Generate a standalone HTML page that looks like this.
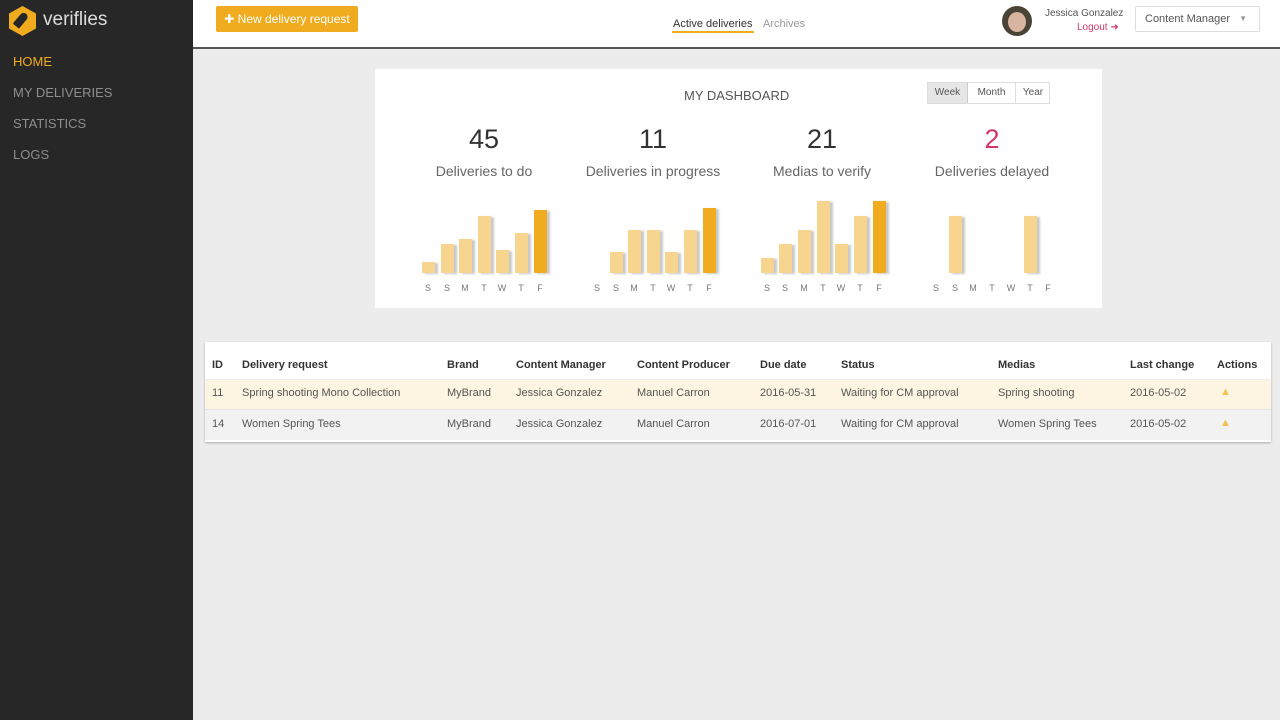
<!DOCTYPE html>
<html><head><meta charset="utf-8"><style>
*{margin:0;padding:0;box-sizing:border-box}
body{width:1280px;height:720px;overflow:hidden;background:#ececec;font-family:"Liberation Sans",sans-serif;position:relative}
.a{position:absolute;white-space:nowrap}
.side{left:0;top:0;width:193px;height:720px;background:#272727}
.nav{left:13px;font-size:13px;color:#8e8e8e}
.top{left:193px;top:0;width:1087px;height:49px;background:#fff;border-bottom:2px solid #555}
.card{left:375px;top:69px;width:727px;height:239px;background:#fff}
.num{font-size:27px;color:#333;text-align:center;width:170px}
.lbl{font-size:14px;color:#666;text-align:center;width:170px}
.b{position:absolute;width:13px;background:#f8d58e;box-shadow:3px 1px 2px #c8c8c8}
.d{background:#f0ac1e}
.dl{font-size:9px;color:#777;width:12px;text-align:center;top:283px}
.tbl{left:205px;top:342px;width:1066px;height:100px;background:#fff;box-shadow:0 1px 2px #aaa}
.th{font-size:11px;font-weight:bold;color:#333;top:359px}
.td{font-size:11px;color:#555}
.wk{position:absolute;top:0;height:20px;line-height:20px;text-align:center}
</style></head><body>
<div class="a side"></div>
<div class="a" style="left:9px;top:6px;width:27px;height:30px;background:#f0ac1e;clip-path:polygon(50% 0,100% 25%,100% 75%,50% 100%,0 75%,0 25%)"></div>
<div class="a" style="left:17px;top:12px;width:8px;height:16px;background:#272727;transform:rotate(40deg);border-radius:4px 4px 1px 1px"></div>
<div class="a" style="left:43px;top:9px;font-size:19px;color:#ddd">veriflies</div>
<div class="a nav" style="top:54px;color:#f0ac1e">HOME</div>
<div class="a nav" style="top:85px">MY DELIVERIES</div>
<div class="a nav" style="top:116px">STATISTICS</div>
<div class="a nav" style="top:147px">LOGS</div>
<div class="a top"></div>
<div class="a" style="left:216px;top:6px;width:142px;height:26px;background:#f0ac1e;border-radius:2px;color:#fff;font-size:12px;line-height:26px;text-align:center">✚ New delivery request</div>
<div class="a" style="left:673px;top:18px;font-size:11px;color:#333">Active deliveries</div>
<div class="a" style="left:672px;top:31px;width:82px;height:2px;background:#f0ac1e"></div>
<div class="a" style="left:763px;top:18px;font-size:11px;color:#999">Archives</div>
<div class="a" style="left:1002px;top:6px;width:30px;height:30px;border-radius:50%;background:#4a4436"></div>
<div class="a" style="left:1008px;top:12px;width:18px;height:20px;border-radius:50%;background:#d9b4a0"></div>
<div class="a" style="left:1045px;top:8px;font-size:10px;color:#555">Jessica Gonzalez</div>
<div class="a" style="left:1077px;top:22px;font-size:10px;color:#d3366e">Logout ➜</div>
<div class="a" style="left:1135px;top:6px;width:125px;height:26px;border:1px solid #ddd;border-radius:2px;font-size:11px;color:#555;line-height:24px;padding-left:9px">Content Manager<span style="position:absolute;right:12px;font-size:8px;color:#999">▼</span></div>
<div class="a card"></div>
<div class="a" style="left:684px;top:88px;font-size:13px;color:#555">MY DASHBOARD</div>
<div class="a" style="left:927px;top:82px;width:123px;height:22px;border:1px solid #ddd;font-size:10px;color:#555">
<span class="wk" style="left:0;width:40px;background:#e6e6e6;border-right:1px solid #ccc">Week</span>
<span class="wk" style="left:40px;width:48px;border-right:1px solid #ddd">Month</span>
<span class="wk" style="left:88px;width:34px">Year</span></div>
<div class="a num" style="left:399px;top:124px">45</div>
<div class="a num" style="left:568px;top:124px">11</div>
<div class="a num" style="left:737px;top:124px">21</div>
<div class="a num" style="left:907px;top:124px;color:#d3366e">2</div>
<div class="a lbl" style="left:399px;top:163px">Deliveries to do</div>
<div class="a lbl" style="left:568px;top:163px">Deliveries in progress</div>
<div class="a lbl" style="left:737px;top:163px">Medias to verify</div>
<div class="a lbl" style="left:907px;top:163px">Deliveries delayed</div>

<div class="b" style="left:422px;top:262px;height:11px"></div>
<div class="b" style="left:441px;top:244px;height:29px"></div>
<div class="b" style="left:459px;top:239px;height:34px"></div>
<div class="b" style="left:478px;top:216px;height:57px"></div>
<div class="b" style="left:496px;top:250px;height:23px"></div>
<div class="b" style="left:515px;top:233px;height:40px"></div>
<div class="b d" style="left:534px;top:210px;height:63px"></div>

<div class="b" style="left:610px;top:252px;height:21px"></div>
<div class="b" style="left:628px;top:230px;height:43px"></div>
<div class="b" style="left:647px;top:230px;height:43px"></div>
<div class="b" style="left:665px;top:252px;height:21px"></div>
<div class="b" style="left:684px;top:230px;height:43px"></div>
<div class="b d" style="left:703px;top:208px;height:65px"></div>

<div class="b" style="left:761px;top:258px;height:15px"></div>
<div class="b" style="left:779px;top:244px;height:29px"></div>
<div class="b" style="left:798px;top:230px;height:43px"></div>
<div class="b" style="left:817px;top:201px;height:72px"></div>
<div class="b" style="left:835px;top:244px;height:29px"></div>
<div class="b" style="left:854px;top:216px;height:57px"></div>
<div class="b d" style="left:873px;top:201px;height:72px"></div>

<div class="b" style="left:949px;top:216px;height:57px"></div>
<div class="b" style="left:1024px;top:216px;height:57px"></div>

<div class="a dl" style="left:422px">S</div><div class="a dl" style="left:441px">S</div><div class="a dl" style="left:459px">M</div><div class="a dl" style="left:478px">T</div><div class="a dl" style="left:496px">W</div><div class="a dl" style="left:515px">T</div><div class="a dl" style="left:534px">F</div>
<div class="a dl" style="left:591px">S</div><div class="a dl" style="left:610px">S</div><div class="a dl" style="left:628px">M</div><div class="a dl" style="left:647px">T</div><div class="a dl" style="left:665px">W</div><div class="a dl" style="left:684px">T</div><div class="a dl" style="left:703px">F</div>
<div class="a dl" style="left:761px">S</div><div class="a dl" style="left:779px">S</div><div class="a dl" style="left:798px">M</div><div class="a dl" style="left:817px">T</div><div class="a dl" style="left:835px">W</div><div class="a dl" style="left:854px">T</div><div class="a dl" style="left:873px">F</div>
<div class="a dl" style="left:930px">S</div><div class="a dl" style="left:949px">S</div><div class="a dl" style="left:967px">M</div><div class="a dl" style="left:986px">T</div><div class="a dl" style="left:1005px">W</div><div class="a dl" style="left:1024px">T</div><div class="a dl" style="left:1042px">F</div>

<div class="a tbl"></div>
<div class="a" style="left:205px;top:379px;width:1066px;height:30px;background:#fdf5e2;border-top:1px solid #eee"></div>
<div class="a" style="left:205px;top:409px;width:1066px;height:31px;background:#f2f2f2;border-top:1px solid #e4e4e4"></div>
<div class="a th" style="left:212px">ID</div>
<div class="a th" style="left:242px">Delivery request</div>
<div class="a th" style="left:447px">Brand</div>
<div class="a th" style="left:516px">Content Manager</div>
<div class="a th" style="left:637px">Content Producer</div>
<div class="a th" style="left:760px">Due date</div>
<div class="a th" style="left:841px">Status</div>
<div class="a th" style="left:998px">Medias</div>
<div class="a th" style="left:1130px">Last change</div>
<div class="a th" style="left:1217px">Actions</div>
<div class="a td" style="left:212px;top:387px">11</div>
<div class="a td" style="left:242px;top:387px">Spring shooting Mono Collection</div>
<div class="a td" style="left:447px;top:387px">MyBrand</div>
<div class="a td" style="left:516px;top:387px">Jessica Gonzalez</div>
<div class="a td" style="left:637px;top:387px">Manuel Carron</div>
<div class="a td" style="left:760px;top:387px">2016-05-31</div>
<div class="a td" style="left:841px;top:387px">Waiting for CM approval</div>
<div class="a td" style="left:998px;top:387px">Spring shooting</div>
<div class="a td" style="left:1130px;top:387px">2016-05-02</div>
<div class="a td" style="left:1220px;top:386px;color:#f5c04a">▲</div>
<div class="a td" style="left:212px;top:418px">14</div>
<div class="a td" style="left:242px;top:418px">Women Spring Tees</div>
<div class="a td" style="left:447px;top:418px">MyBrand</div>
<div class="a td" style="left:516px;top:418px">Jessica Gonzalez</div>
<div class="a td" style="left:637px;top:418px">Manuel Carron</div>
<div class="a td" style="left:760px;top:418px">2016-07-01</div>
<div class="a td" style="left:841px;top:418px">Waiting for CM approval</div>
<div class="a td" style="left:998px;top:418px">Women Spring Tees</div>
<div class="a td" style="left:1130px;top:418px">2016-05-02</div>
<div class="a td" style="left:1220px;top:417px;color:#f5c04a">▲</div>
</body></html>
